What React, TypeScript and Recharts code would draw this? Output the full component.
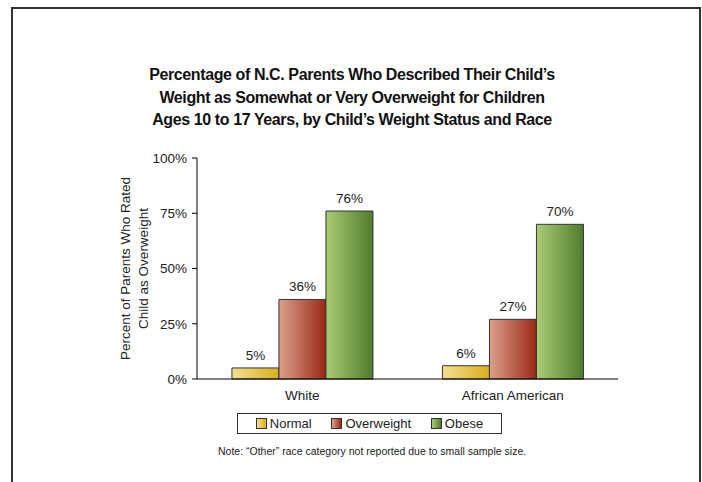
import React from 'react';
import { BarChart, Bar, XAxis, YAxis, LabelList, Legend } from 'recharts';

const races = ['White', 'African American'];
const normalPct = [5, 6];
const overweightPct = [36, 27];
const obesePct = [76, 70];
const yTicks = [0, 25, 50, 75, 100];
const seriesNames = ['Normal', 'Overweight', 'Obese'];
const titleLines = [
  'Percentage of N.C. Parents Who Described Their Child\u2019s',
  'Weight as Somewhat or Very Overweight for Children',
  'Ages 10 to 17 Years, by Child\u2019s Weight Status and Race',
];
const yLabelLines = ['Percent of Parents Who Rated', 'Child as Overweight'];
const note = 'Note: \u201cOther\u201d race category not reported due to small sample size.';

const data = races.map((race, i) => ({
  race,
  normal: normalPct[i],
  overweight: overweightPct[i],
  obese: obesePct[i],
}));

// left -> right shading of each bar
const gradients = [
  { id: 'gNormal', from: '#f3df92', to: '#dcae1c' },
  { id: 'gOver', from: '#dba08a', to: '#9a2816' },
  { id: 'gObese', from: '#aacb74', to: '#4f7d2c' },
];

const FONT = '"Liberation Sans", Arial, sans-serif';

function YLabel({ viewBox }: any) {
  const cy = viewBox.y + viewBox.height / 2;
  const xs = [viewBox.x - 12, viewBox.x + 6];
  return (
    <g>
      {yLabelLines.map((t, i) => (
        <text
          key={t}
          x={xs[i]}
          y={cy}
          transform={`rotate(-90 ${xs[i]} ${cy})`}
          textAnchor="middle"
          dominantBaseline="central"
          fontSize={13.5}
          fill="#222"
          fontFamily={FONT}
        >
          {t}
        </text>
      ))}
    </g>
  );
}

function LegendBox() {
  return (
    <div
      style={{
        border: '1px solid #333',
        height: 21,
        boxSizing: 'border-box',
        display: 'flex',
        alignItems: 'center',
        justifyContent: 'space-around',
        padding: '0 8px',
        fontFamily: FONT,
        fontSize: 13,
        color: '#222',
        background: '#fff',
      }}
    >
      {seriesNames.map((name, i) => (
        <span key={name} style={{ display: 'flex', alignItems: 'center' }}>
          <span
            style={{
              display: 'inline-block',
              width: 9,
              height: 9,
              border: '1px solid #333',
              marginRight: 3,
              background: `linear-gradient(to right, ${gradients[i].from}, ${gradients[i].to})`,
            }}
          />
          {name}
        </span>
      ))}
    </div>
  );
}

export default function App() {
  return (
    <div style={{ position: 'absolute', left: 0, top: 0, width: 702, height: 482, overflow: 'hidden', background: '#fff' }}>
      <div
        style={{
          position: 'absolute',
          left: 11,
          top: 7,
          width: 690,
          height: 500,
          border: '2px solid #333',
          boxSizing: 'border-box',
        }}
      />
      <div
        style={{
          position: 'absolute',
          top: 64,
          left: 0,
          width: 704,
          textAlign: 'center',
          fontFamily: FONT,
          fontWeight: 'bold',
          fontSize: 16,
          letterSpacing: '-0.4px',
          lineHeight: '22.5px',
          color: '#111',
        }}
      >
        {titleLines.map((l) => (
          <div key={l}>{l}</div>
        ))}
      </div>
      <BarChart
        width={702}
        height={482}
        data={data}
        margin={{ top: 158, right: 84, left: 137, bottom: 73 }}
        barCategoryGap="16.6%"
        barGap={0}
      >
        <defs>
          {gradients.map((g) => (
            <linearGradient key={g.id} id={g.id} x1="0" y1="0" x2="1" y2="0">
              <stop offset="0%" stopColor={g.from} />
              <stop offset="100%" stopColor={g.to} />
            </linearGradient>
          ))}
        </defs>
        <XAxis
          xAxisId="frame"
          type="number"
          domain={[0, 2]}
          ticks={[0, 1, 2]}
          height={0}
          axisLine={false}
          tickLine={{ stroke: '#000' }}
          tickSize={5}
          tick={() => <g />}
        />
        <XAxis
          dataKey="race"
          height={30}
          tickLine={false}
          axisLine={{ stroke: '#000' }}
          tickMargin={5}
          tick={{ fontSize: 13.5, fill: '#222', fontFamily: FONT }}
        />
        <YAxis
          width={60}
          domain={[0, 100]}
          ticks={yTicks}
          tickFormatter={(v) => `${v}%`}
          tickSize={5}
          tickMargin={5}
          axisLine={{ stroke: '#000' }}
          tickLine={{ stroke: '#000' }}
          tick={{ fontSize: 13.5, fill: '#222', fontFamily: FONT }}
          label={<YLabel />}
        />
        <Legend
          layout="horizontal"
          verticalAlign="middle"
          align="center"
          wrapperStyle={{ left: 237, top: 413, width: 265 }}
          content={() => <LegendBox />}
        />
        <Bar dataKey="normal" name={seriesNames[0]} fill="url(#gNormal)" stroke="#333" strokeWidth={1} isAnimationActive={false}>
          <LabelList dataKey="normal" position="top" offset={8} formatter={(v: any) => `${v}%`} fill="#222" fontSize={13.5} fontFamily={FONT} />
        </Bar>
        <Bar dataKey="overweight" name={seriesNames[1]} fill="url(#gOver)" stroke="#333" strokeWidth={1} isAnimationActive={false}>
          <LabelList dataKey="overweight" position="top" offset={8} formatter={(v: any) => `${v}%`} fill="#222" fontSize={13.5} fontFamily={FONT} />
        </Bar>
        <Bar dataKey="obese" name={seriesNames[2]} fill="url(#gObese)" stroke="#333" strokeWidth={1} isAnimationActive={false}>
          <LabelList dataKey="obese" position="top" offset={8} formatter={(v: any) => `${v}%`} fill="#222" fontSize={13.5} fontFamily={FONT} />
        </Bar>
      </BarChart>
      <div
        style={{
          position: 'absolute',
          top: 445,
          left: 218,
          width: 306,
          textAlign: 'center',
          whiteSpace: 'nowrap',
          fontFamily: FONT,
          fontSize: 10.5,
          color: '#222',
        }}
      >
        {note}
      </div>
    </div>
  );
}
